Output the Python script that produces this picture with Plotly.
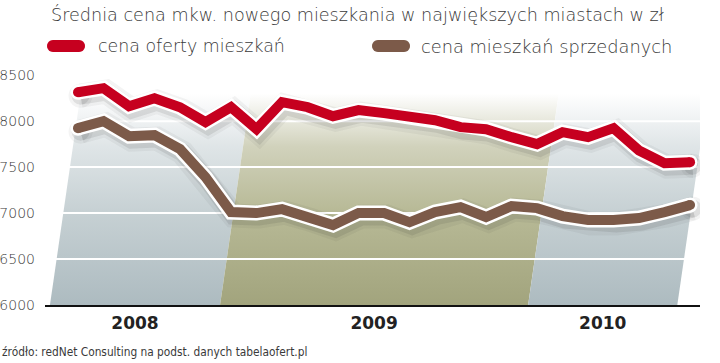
import plotly.graph_objects as go

# ---------------- data ----------------
months = ["2008-06", "2008-07", "2008-08", "2008-09", "2008-10", "2008-11", "2008-12",
          "2009-01", "2009-02", "2009-03", "2009-04", "2009-05", "2009-06", "2009-07",
          "2009-08", "2009-09", "2009-10", "2009-11", "2009-12",
          "2010-01", "2010-02", "2010-03", "2010-04", "2010-05", "2010-06"]
offer = [8315, 8359, 8163, 8250, 8152, 7989, 8152, 7913, 8207, 8152, 8054, 8120, 8087,
         8043, 8010, 7935, 7913, 7826, 7750, 7880, 7826, 7924, 7680, 7543, 7554]
sold = [7924, 8000, 7837, 7848, 7696, 7391, 7011, 7000, 7043, 6967, 6870, 7000, 7000,
        6900, 7011, 7065, 6957, 7076, 7054, 6967, 6924, 6924, 6946, 7011, 7087]
years = ["2008", "2009", "2010"]
band_edges = [-1.1, 5.57, 17.65, 23.5]   # year band borders at the base (index units)
yticks = [6000, 6500, 7000, 7500, 8000, 8500]
grid_vals = [6500, 7000, 7500, 8000]

title = "Średnia cena mkw. nowego mieszkania w największych miastach w zł"
name_offer = "cena oferty mieszkań"
name_sold = "cena mieszkań sprzedanych"
source = "źródło: redNet Consulting na podst. danych tabelaofert.pl"

RED = "#c6001f"
BROWN = "#7c5a49"

# ---------------- geometry helpers ----------------
W, H = 720, 363
ML, MR, MT, MB = 45, 20, 66, 58
PW, PH = W - ML - MR, H - MT - MB
YMIN, YMAX = 6000, 8600
XMIN, XMAX = -1.294, 24.39
SLANT = 0.2616 / 500.0   # index shift per value unit (pseudo-3D lean)
BAND_TOP = 8300


def px2paper(px, py):
    return (px - ML) / PW, (H - MB - py) / PH


x = list(range(len(months)))
fig = go.Figure()

# year bands with vertical gradients
band_scales = [
    [[0, "#adbbc0"], [0.45, "#c7d1d4"], [0.75, "#dfe5e7"], [1, "#ffffff"]],
    [[0, "#a2a47d"], [0.45, "#b8ba97"], [0.75, "#d1d2bc"], [1, "#ffffff"]],
    [[0, "#adbbc0"], [0.45, "#c7d1d4"], [0.75, "#dfe5e7"], [1, "#ffffff"]],
]
s = (BAND_TOP - YMIN) * SLANT
for k in range(len(years)):
    x0, x1 = band_edges[k], band_edges[k + 1]
    fig.add_trace(go.Scatter(
        x=[x0, x1, x1 + s, x0 + s, x0], y=[YMIN, YMIN, BAND_TOP, BAND_TOP, YMIN],
        mode="lines", line=dict(width=0), fill="toself",
        fillgradient=dict(type="vertical", colorscale=band_scales[k]),
        hoverinfo="skip"))

# white grid lines over the bands
for v in grid_vals:
    fig.add_trace(go.Scatter(x=[XMIN, XMAX], y=[v, v], mode="lines",
                             line=dict(color="white", width=2), hoverinfo="skip"))


def add_series(vals, color):
    sx = [xi + 0.1 for xi in x]
    sy = [v - 38 for v in vals]
    for w, a in [(24, 0.05), (18, 0.10)]:
        fig.add_trace(go.Scatter(
            x=sx, y=sy, mode="lines", line=dict(color=f"rgba(40,40,40,{a})", width=w),
            hoverinfo="skip"))
        fig.add_trace(go.Scatter(
            x=[sx[0], sx[-1]], y=[sy[0], sy[-1]], mode="markers",
            marker=dict(color=f"rgba(40,40,40,{a})", size=w, line=dict(width=0)),
            hoverinfo="skip"))
    fig.add_trace(go.Scatter(x=x, y=vals, mode="lines",
                             line=dict(color="white", width=15), hoverinfo="skip"))
    fig.add_trace(go.Scatter(x=[x[0], x[-1]], y=[vals[0], vals[-1]], mode="markers",
                             marker=dict(color="white", size=15, line=dict(width=0)),
                             hoverinfo="skip"))
    fig.add_trace(go.Scatter(x=x, y=vals, mode="lines",
                             line=dict(color=color, width=10)))
    fig.add_trace(go.Scatter(x=[x[0], x[-1]], y=[vals[0], vals[-1]], mode="markers",
                             marker=dict(color=color, size=10, line=dict(width=0)),
                             hoverinfo="skip"))


add_series(sold, BROWN)
add_series(offer, RED)

# year tick positions: centres of the band bases
year_pos = [(band_edges[k] + band_edges[k + 1]) / 2 for k in range(len(years))]

TXT = "#3a3a3a"
FONT = "DejaVu Sans"


def pill_path(hw=19, r=6, n=12):
    import math
    pts = []
    for i in range(n + 1):
        a = -math.pi / 2 + math.pi * i / n
        pts.append((hw - r + r * math.cos(a), r * math.sin(a)))
    for i in range(n + 1):
        a = math.pi / 2 + math.pi * i / n
        pts.append((-hw + r + r * math.cos(a), r * math.sin(a)))
    return "M " + " L ".join(f"{px:.2f},{py:.2f}" for px, py in pts) + " Z"


shapes = []
for (cx, cy), col in [((66, 46), RED), ((391, 46), BROWN)]:
    ax, ay = px2paper(cx, cy)
    shapes.append(dict(type="path", xref="paper", yref="paper", xsizemode="pixel",
                       ysizemode="pixel", xanchor=ax, yanchor=ay, path=pill_path(),
                       fillcolor=col, line=dict(width=0)))

annotations = []
for (px, py), text, size, fam in [((49, 14), title, 17.6, FONT),
                                  ((96, 46), name_offer, 17.4, FONT),
                                  ((419, 46), name_sold, 17.8, FONT),
                                  ((0, 352), source, 11.8, "DejaVu Sans Condensed")]:
    ax, ay = px2paper(px, py)
    annotations.append(dict(x=ax, y=ay, xref="paper", yref="paper", text=text,
                            showarrow=False, xanchor="left", yanchor="middle",
                            font=dict(family=fam, size=size, color=TXT, weight=300)))

fig.update_layout(
    width=W, height=H, margin=dict(l=ML, r=MR, t=MT, b=MB, autoexpand=False),
    paper_bgcolor="white", plot_bgcolor="white", showlegend=False,
    shapes=shapes, annotations=annotations,
    xaxis=dict(range=[XMIN, XMAX], tickvals=year_pos, ticktext=years,
               showline=True, linecolor="#111111", linewidth=2, showgrid=False,
               zeroline=False, ticks="", ticklabelstandoff=2, automargin=False,
               tickfont=dict(family=FONT, size=17, color="#222222", weight="bold")),
    yaxis=dict(range=[YMIN, YMAX], tickvals=yticks, showgrid=False, zeroline=False,
               showline=False, ticks="", ticklabelstandoff=9, automargin=False,
               tickfont=dict(family=FONT, size=14, color=TXT, weight=300)),
)

fig.write_html("out.html")
